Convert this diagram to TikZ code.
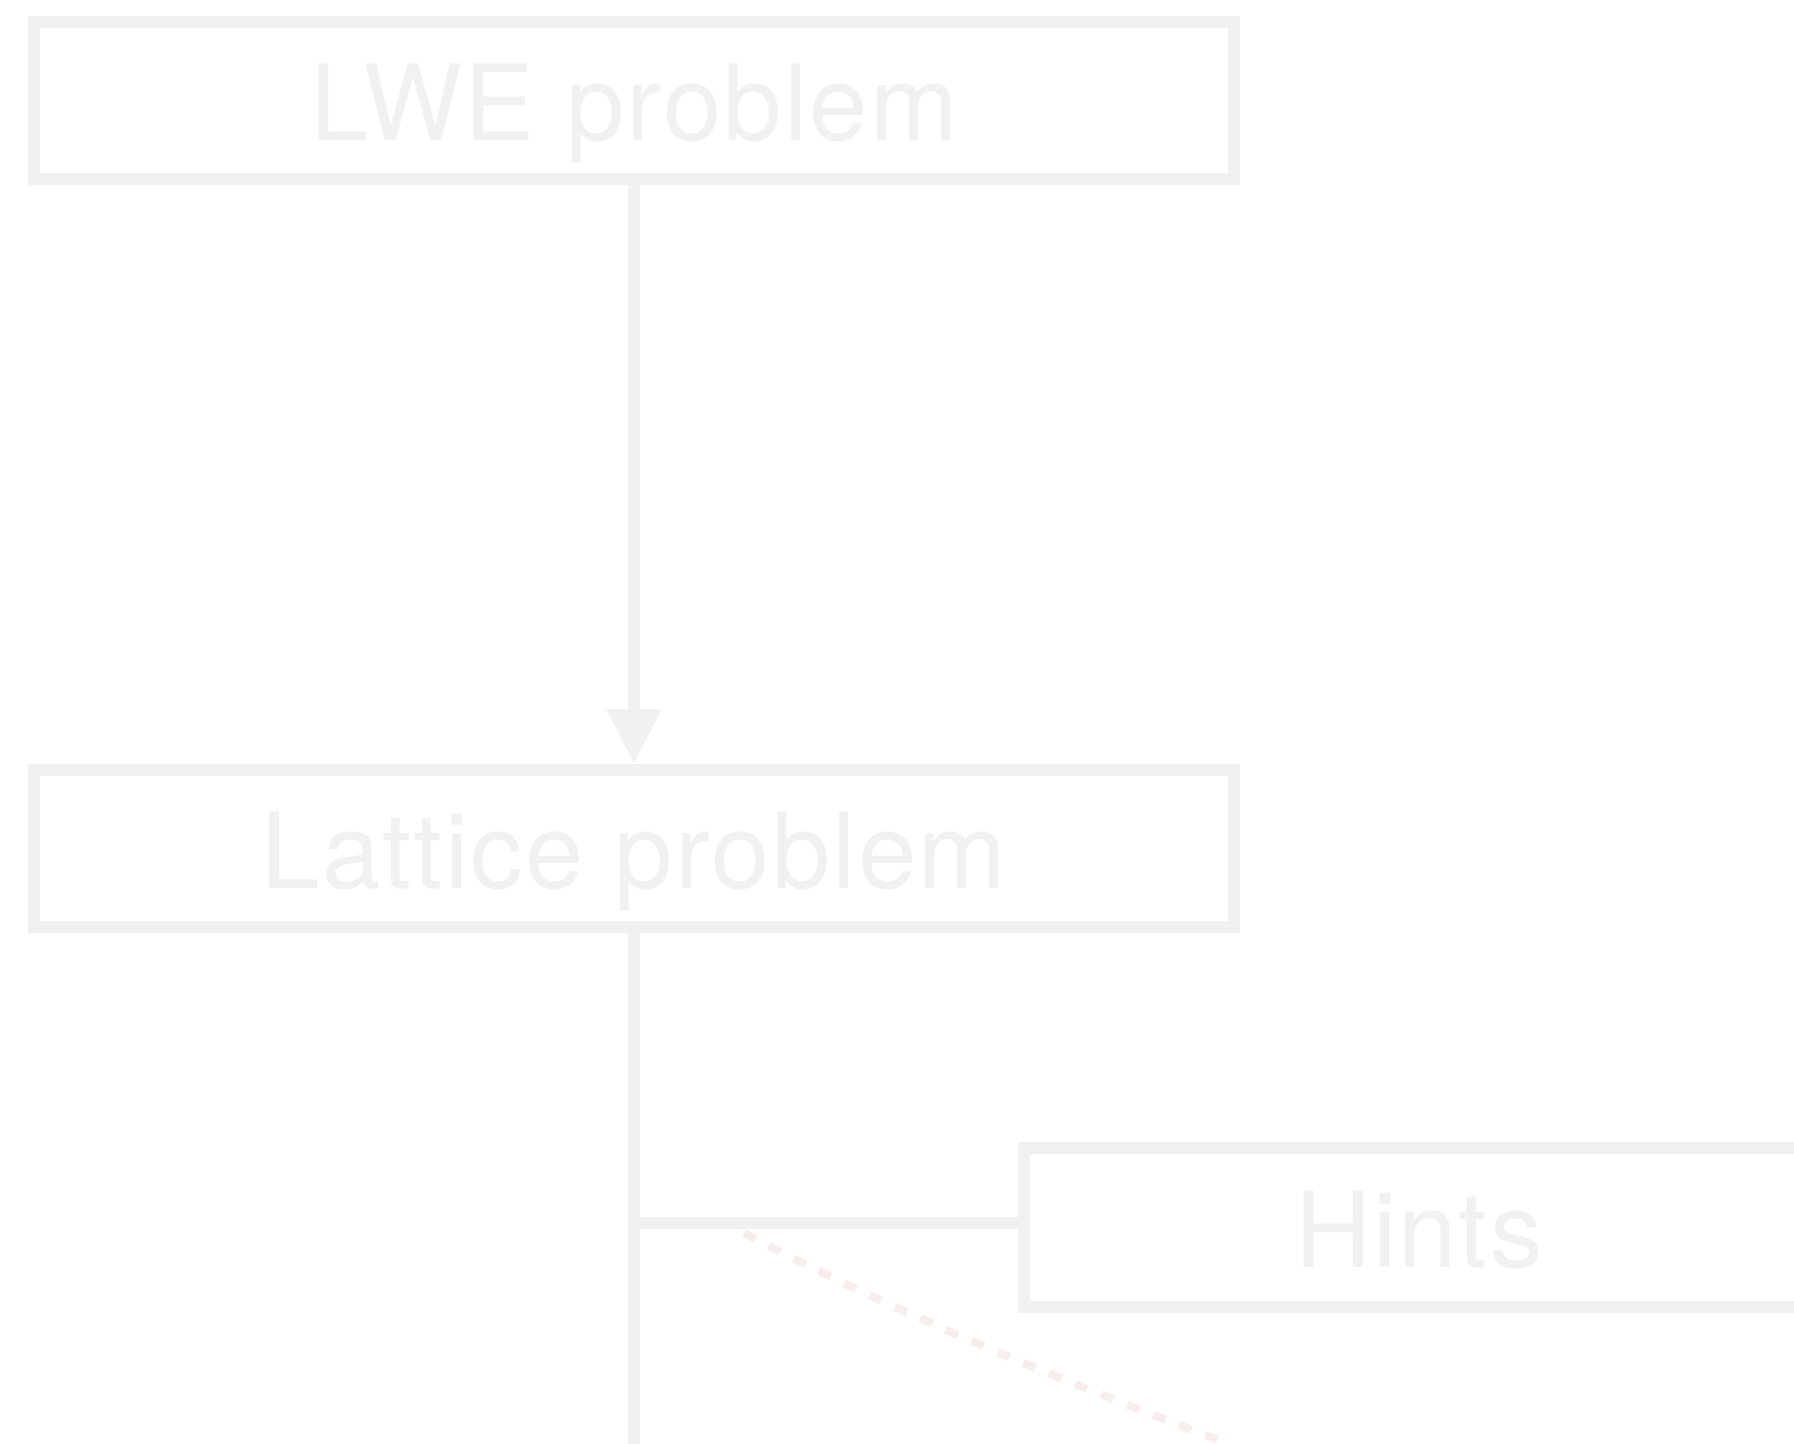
\documentclass[tikz,border=0pt]{standalone}
\usepackage{fontspec}
\setmainfont{TeX Gyre Heros}[LetterSpace=2]
\usetikzlibrary{arrows.meta}
\definecolor{boxgray}{HTML}{F1F1F1}
\definecolor{dashpink}{HTML}{F8ECEC}
\tikzset{
  probbox/.style={draw=boxgray, line width=6pt, text=boxgray, minimum height=78.5pt,
    inner sep=0pt, text height=40.4pt, text depth=0pt,
    font=\fontsize{52.5}{60}\selectfont},
  link/.style={draw=boxgray, line width=6pt},
  hintlink/.style={draw=dashpink, line width=4pt, dash pattern=on 6.5pt off 7.5pt}
}
\begin{document}
\begin{tikzpicture}[x=0.5pt, y=-0.5pt]
  \useasboundingbox (0,0) rectangle (1794,1444);
  \clip (0,0) rectangle (1794,1444);
  \node[probbox, minimum width=600pt] (lwe) at (634,100.5) {LWE problem};
  \node[probbox, minimum width=600pt] (lattice) at (634,848.5) {Lattice problem};
  \node[probbox, minimum width=395pt, minimum height=79.5pt] (hints) at (1419,1227.5) {Hints};
  \coordinate (down) at (634,1460);
  \coordinate (dstart) at (744,1233);
  \coordinate (dend) at (1229,1444);
  \coordinate (tap) at ([yshift=2.3pt]hints.west);
  \draw[link, -{Triangle[length=27.5pt, width=26pt]}] (lwe.south) -- (lattice.north);
  \draw[link] (lattice.south) -- (down);
  \draw[link] (lattice.south |- tap) -- (tap);
  \draw[hintlink] (dstart) .. controls (900,1315) and (1060,1380) .. (dend);
\end{tikzpicture}
\end{document}
